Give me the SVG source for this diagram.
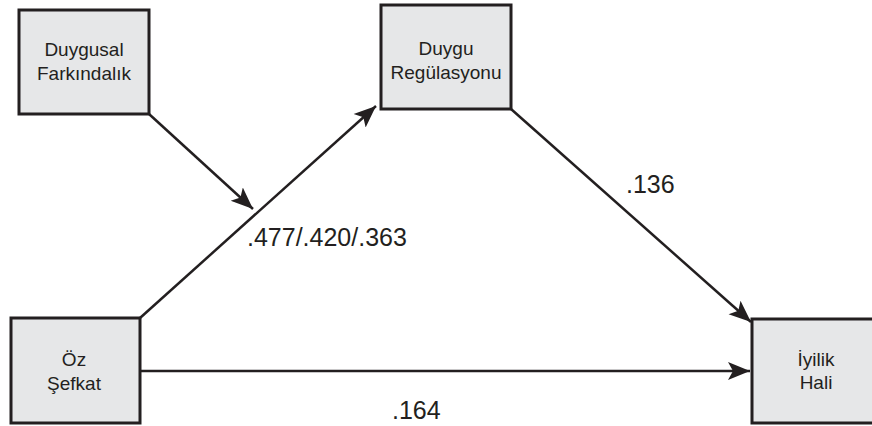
<svg xmlns="http://www.w3.org/2000/svg" width="872" height="426" viewBox="0 0 872 426">
<style>
.box{fill:#e6e7e8;stroke:#231f20;stroke-width:3}
.lbl{font-family:"Liberation Sans",Arial,sans-serif;font-size:19px;fill:#231f20;text-anchor:middle}
.num{font-family:"Liberation Sans",Arial,sans-serif;font-size:25px;fill:#231f20}
.edge{stroke:#231f20;stroke-width:2.5;fill:none;marker-end:url(#ah)}
</style>
<defs>
<marker id="ah" markerUnits="userSpaceOnUse" markerWidth="24" markerHeight="20" viewBox="0 0 24 20" refX="22" refY="10" orient="auto">
<path d="M0,1 L22,10 L0,19 L5,10 Z" fill="#231f20"/>
</marker>
</defs>
<rect width="872" height="426" fill="#ffffff"/>
<g id="connectors">
<line class="edge" x1="149" y1="114" x2="253" y2="209"/>
<line class="edge" x1="140" y1="318" x2="376" y2="106"/>
<line class="edge" x1="511" y1="109" x2="751" y2="322"/>
<line class="edge" x1="140" y1="371" x2="750" y2="371"/>
<text class="num" x="247" y="246">.477/.420/.363</text>
<text class="num" x="626" y="193">.136</text>
<text class="num" x="392" y="419">.164</text>
</g>
<g id="duygusal">
<rect class="box" x="19" y="10" width="130" height="104"/>
<text class="lbl" x="84" y="56">Duygusal</text>
<text class="lbl" x="84" y="80">Farkındalık</text>
</g>
<g id="duygu">
<rect class="box" x="381" y="5" width="130" height="104"/>
<text class="lbl" x="446" y="55">Duygu</text>
<text class="lbl" x="446" y="79">Regülasyonu</text>
</g>
<g id="oz">
<rect class="box" x="11" y="318" width="129" height="105"/>
<text class="lbl" x="74" y="366">Öz</text>
<text class="lbl" x="74" y="390">Şefkat</text>
</g>
<g id="iyilik">
<rect class="box" x="752" y="319" width="130" height="104"/>
<text class="lbl" x="816" y="366">İyilik</text>
<text class="lbl" x="816" y="389">Hali</text>
</g>
</svg>
